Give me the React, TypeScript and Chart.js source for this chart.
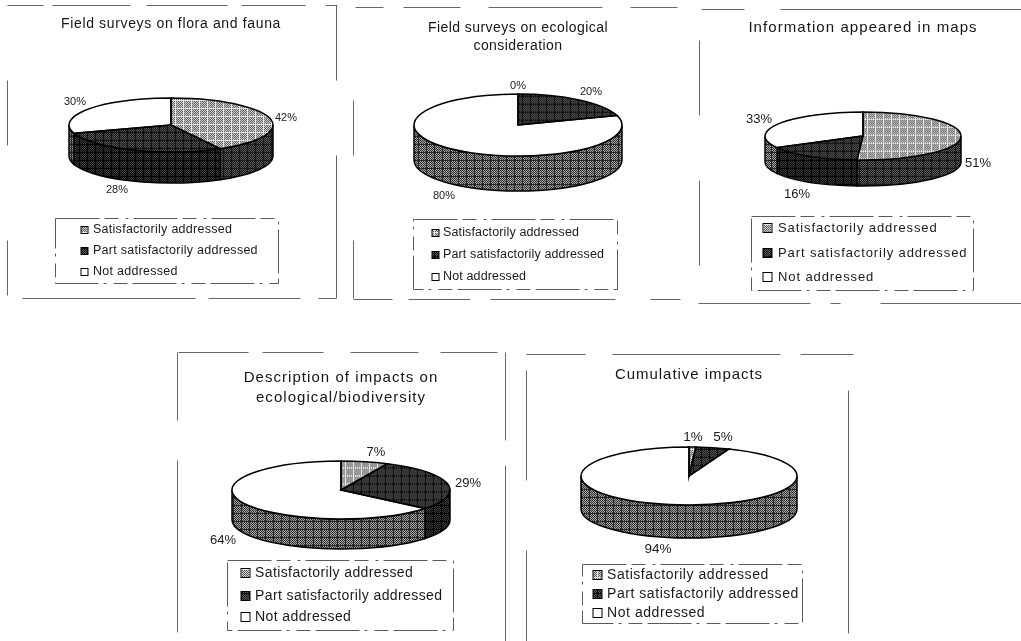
import React, { useEffect, useRef } from "react";
import { Chart, registerables } from "chart.js";

Chart.register(...registerables);

const categories = ["Satisfactorily addressed", "Part satisfactorily addressed", "Not addressed"];

const floraFaunaShares = [42, 28, 30];
const ecologicalShares = [0, 20, 80];
const mapShares = [51, 16, 33];
const impactShares = [7, 29, 64];
const cumulativeShares = [1, 5, 94];

const floraFaunaTitle = ["Field surveys on flora and fauna"];
const ecologicalTitle = ["Field surveys on ecological", "consideration"];
const mapTitle = ["Information appeared in maps"];
const impactTitle = ["Description of impacts on", "ecological/biodiversity"];
const cumulativeTitle = ["Cumulative impacts"];

const FONT = "'Liberation Sans', Arial, sans-serif";
const CANVAS_W = 344;

type Seg = [number, number, number, number];

interface Panel {
  values: number[];
  title: string[];
  titleY: number; titleSize: number; titleLine: number; titleSpacing: string;
  top: number; height: number;
  cx: number; cy: number; rx: number; ry: number; depth: number;
  labelSize: number;
  labelAt: [number, number][]; // offsets of the percent labels from the pie centre
  box: [number, number, number, number];
  rows: number[]; swatchX: number; swatch: number; textX: number; legendSize: number; legendSpacing: string;
  frame: Seg[];
}

const panels: Panel[] = [
  {
    values: floraFaunaShares, title: floraFaunaTitle,
    titleY: 24, titleSize: 14, titleLine: 18, titleSpacing: "0.65px",
    top: 0, height: 310,
    cx: 171, cy: 125, rx: 102, ry: 27, depth: 31,
    labelSize: 11, labelAt: [[115, -7], [-54, 65], [-96, -23]],
    box: [55, 218, 278, 283],
    rows: [230, 251, 272], swatchX: 81, swatch: 7, textX: 93, legendSize: 12.5, legendSpacing: "0.27px",
    frame: [
      [7, 5, 43, 5], [52, 5, 130, 5], [146, 5, 227, 5], [241, 5, 305, 5], [325, 5, 337, 5],
      [336, 5, 336, 80], [336, 155, 336, 298],
      [7, 80, 7, 145], [7, 240, 7, 295],
      [22, 298, 195, 298], [208, 298, 300, 298], [318, 298, 336, 298],
    ],
  },
  {
    values: ecologicalShares, title: ecologicalTitle,
    titleY: 28, titleSize: 14, titleLine: 18, titleSpacing: "0.45px",
    top: 0, height: 310,
    cx: 518, cy: 125, rx: 104, ry: 31, depth: 35,
    labelSize: 11, labelAt: [[0, -39], [73, -33], [-74, 71]],
    box: [413, 219, 617, 289],
    rows: [233, 255, 277], swatchX: 432, swatch: 7, textX: 443, legendSize: 12.5, legendSpacing: "0.14px",
    frame: [
      [355, 7, 383, 7], [403, 7, 460, 7], [488, 7, 602, 7], [630, 7, 677, 7],
      [353, 100, 353, 155], [353, 240, 353, 298],
      [353, 299, 392, 299], [408, 299, 470, 299], [490, 299, 615, 299], [650, 299, 680, 299],
    ],
  },
  {
    values: mapShares, title: mapTitle,
    titleY: 28, titleSize: 15, titleLine: 18, titleSpacing: "1.07px",
    top: 0, height: 310,
    cx: 863, cy: 136, rx: 98, ry: 24, depth: 26,
    labelSize: 13, labelAt: [[115, 27], [-66, 58], [-104, -17]],
    box: [751, 216, 973, 290],
    rows: [228, 253, 277], swatchX: 763, swatch: 9, textX: 778, legendSize: 13, legendSpacing: "0.9px",
    frame: [
      [701, 9, 744, 9], [780, 9, 1021, 9],
      [699, 40, 699, 115], [699, 180, 699, 265],
      [698, 303, 810, 303], [830, 303, 840, 303], [880, 303, 1021, 303],
    ],
  },
  {
    values: impactShares, title: impactTitle,
    titleY: 378, titleSize: 15, titleLine: 20, titleSpacing: "1.05px",
    top: 345, height: 296,
    cx: 341, cy: 490, rx: 109, ry: 29, depth: 30,
    labelSize: 13, labelAt: [[35, -38], [127, -7], [-118, 50]],
    box: [227, 560, 453, 630],
    rows: [573, 596, 617], swatchX: 241, swatch: 9, textX: 255, legendSize: 14, legendSpacing: "0.4px",
    frame: [
      [178, 352, 248, 352], [262, 352, 323, 352], [350, 352, 418, 352], [440, 352, 497, 352],
      [177, 352, 177, 420], [177, 460, 177, 632],
      [505, 352, 505, 440], [505, 465, 505, 641],
    ],
  },
  {
    values: cumulativeShares, title: cumulativeTitle,
    titleY: 375, titleSize: 15, titleLine: 20, titleSpacing: "0.95px",
    top: 345, height: 296,
    cx: 689, cy: 476, rx: 108, ry: 29, depth: 33,
    labelSize: 13.5, labelAt: [[4, -39], [34, -39], [-31, 73]],
    box: [582, 564, 802, 623],
    rows: [575, 594, 613], swatchX: 593, swatch: 9, textX: 607, legendSize: 14, legendSpacing: "0.55px",
    frame: [
      [526, 354, 585, 354], [612, 354, 780, 354], [800, 354, 853, 354],
      [526, 370, 526, 480], [526, 550, 526, 641],
      [848, 390, 848, 557], [848, 553, 848, 633],
    ],
  },
];

// Two-tone dither with a coarser lattice running through it, the way the print screens its fills.
function ditherTile(dark: string, light: string, lattice: string | null): HTMLCanvasElement {
  const tile = document.createElement("canvas");
  tile.width = 8;
  tile.height = 8;
  const g = tile.getContext("2d")!;
  for (let y = 0; y < 8; y++) {
    for (let x = 0; x < 8; x++) {
      g.fillStyle = (x + y) % 2 === 0 ? dark : light;
      g.fillRect(x, y, 1, 1);
    }
  }
  if (lattice) {
    g.fillStyle = lattice;
    g.fillRect(0, 0, 8, 1);
    g.fillRect(0, 0, 1, 8);
  }
  return tile;
}

function makePattern(tile: HTMLCanvasElement, yScale = 1): CanvasPattern {
  const p = document.createElement("canvas").getContext("2d")!.createPattern(tile, "repeat")!;
  if (yScale !== 1) p.setTransform(new DOMMatrix().scale(1, yScale));
  return p;
}

const faceTiles = () => [
  ditherTile("#5e5e5e", "#d2d2d2", "#e6e6e6"),
  ditherTile("#141414", "#5a5a5a", "#101010"),
];
const wallTiles = () => [
  ditherTile("#141414", "#606060", "#1c1c1c"),
  ditherTile("#060606", "#3e3e3e", "#060606"),
  ditherTile("#303030", "#a4a4a4", "#262626"),
];

function PiePanel({ panel }: { panel: Panel }) {
  const ref = useRef<HTMLCanvasElement>(null);
  const left = panel.cx - CANVAS_W / 2;

  useEffect(() => {
    const squash = panel.ry / panel.rx;
    const [lightFace, darkFace] = faceTiles();
    const faces = [makePattern(lightFace, 1 / squash), makePattern(darkFace, 1 / squash), "#ffffff"];
    const swatches = [makePattern(lightFace), makePattern(darkFace), "#ffffff"];
    const walls = wallTiles().map((t) => makePattern(t));

    const toLocalX = (x: number) => x - left;
    const toLocalY = (y: number) => y - panel.top;
    // The pie radius comes from the chart area's height; the full width stays free for the heading.
    const padTop = toLocalY(panel.cy) - panel.rx;
    const padBottom = panel.height - toLocalY(panel.cy) - panel.rx;
    const titleLead = panel.titleY - panel.top - panel.titleLine / 2 - padTop;

    const tilt = {
      id: "tiltedPie",
      beforeDraw(chart: any) {
        chart.ctx.letterSpacing = panel.titleSpacing;
      },
      beforeDatasetsDraw(chart: any) {
        const ctx = chart.ctx as CanvasRenderingContext2D;
        const arcs = chart.getDatasetMeta(0).data;
        const x = arcs[0].x;
        const y = arcs[0].y;
        ctx.save();
        ctx.lineWidth = 1.5;
        ctx.strokeStyle = "#000";
        arcs.forEach((arc: any, i: number) => {
          const s = Math.max(arc.startAngle, 0);
          const e = Math.min(arc.endAngle, Math.PI);
          if (e <= s) return;
          ctx.beginPath();
          ctx.ellipse(x, y + panel.depth, panel.rx, panel.ry, 0, s, e);
          ctx.ellipse(x, y, panel.rx, panel.ry, 0, e, s, true);
          ctx.closePath();
          ctx.fillStyle = walls[i];
          ctx.fill();
          ctx.stroke();
        });
        ctx.restore();
        ctx.save();
        ctx.translate(x, y);
        ctx.scale(1, squash);
        ctx.translate(-x, -y);
      },
      afterDatasetsDraw(chart: any) {
        const ctx = chart.ctx as CanvasRenderingContext2D;
        ctx.restore();
        const arcs = chart.getDatasetMeta(0).data;
        const x = arcs[0].x;
        const y = arcs[0].y;

        ctx.save();
        ctx.lineWidth = 1.5;
        ctx.strokeStyle = "#000";
        arcs.forEach((arc: any) => {
          if (arc.endAngle - arc.startAngle <= 0) return;
          ctx.beginPath();
          ctx.moveTo(x, y);
          ctx.ellipse(x, y, panel.rx, panel.ry, 0, arc.startAngle, arc.endAngle);
          ctx.closePath();
          ctx.stroke();
        });

        // Percent labels
        ctx.fillStyle = "#1a1a1a";
        ctx.textAlign = "center";
        ctx.textBaseline = "middle";
        ctx.letterSpacing = "0px";
        ctx.font = `${panel.labelSize}px ${FONT}`;
        panel.values.forEach((v, i) => {
          const [dx, dy] = panel.labelAt[i];
          ctx.fillText(`${v}%`, x + dx, y + dy);
        });

        // Legend
        ctx.textAlign = "left";
        ctx.letterSpacing = panel.legendSpacing;
        ctx.font = `${panel.legendSize}px ${FONT}`;
        const labels: string[] = chart.data.labels;
        labels.forEach((label, i) => {
          const rowY = toLocalY(panel.rows[i]);
          const sx = toLocalX(panel.swatchX);
          ctx.fillStyle = swatches[i] as any;
          ctx.fillRect(sx, rowY - panel.swatch / 2, panel.swatch, panel.swatch);
          ctx.lineWidth = 1;
          ctx.strokeStyle = "#000";
          ctx.strokeRect(sx, rowY - panel.swatch / 2, panel.swatch, panel.swatch);
          ctx.fillStyle = "#1a1a1a";
          ctx.fillText(label, toLocalX(panel.textX), rowY);
        });

        // Broken frame lines around the legend and the panel
        ctx.strokeStyle = "#5a5a5a";
        ctx.lineWidth = 1;
        ctx.setLineDash([44, 5, 14, 7, 3, 5]);
        const [bx0, by0, bx1, by1] = panel.box;
        ctx.strokeRect(toLocalX(bx0) + 0.5, toLocalY(by0) + 0.5, bx1 - bx0, by1 - by0);
        ctx.setLineDash([]);
        ctx.strokeStyle = "#666";
        panel.frame.forEach(([x0, y0, x1, y1]) => {
          ctx.beginPath();
          ctx.moveTo(toLocalX(x0) + 0.5, toLocalY(y0) + 0.5);
          ctx.lineTo(toLocalX(x1) + 0.5, toLocalY(y1) + 0.5);
          ctx.stroke();
        });
        ctx.restore();
      },
    };

    const chart = new Chart(ref.current!, {
      type: "pie",
      data: {
        labels: categories,
        datasets: [{ data: panel.values, backgroundColor: faces as any, borderWidth: 0 }],
      },
      options: {
        responsive: false,
        animation: false,
        events: [],
        layout: { padding: { top: padTop, left: 0, right: 0, bottom: padBottom } },
        plugins: {
          legend: { display: false },
          tooltip: { enabled: false },
          title: {
            display: true,
            text: panel.title,
            color: "#151515",
            font: { family: FONT, size: panel.titleSize, weight: "normal", lineHeight: panel.titleLine / panel.titleSize },
            // The heading floats over the panel and takes no room from the pie.
            padding: { top: titleLead, bottom: -(titleLead + panel.title.length * panel.titleLine) },
          },
        },
      },
      plugins: [tilt],
    } as any);
    return () => chart.destroy();
  }, [panel, left]);

  return (
    <canvas
      ref={ref}
      width={CANVAS_W}
      height={panel.height}
      style={{ position: "absolute", left, top: panel.top, width: CANVAS_W, height: panel.height }}
    />
  );
}

export default function App() {
  return (
    <div style={{ position: "fixed", left: 0, top: 0, width: 1021, height: 641, overflow: "hidden", background: "#fff" }}>
      {panels.map((p, i) => (
        <PiePanel key={i} panel={p} />
      ))}
    </div>
  );
}
